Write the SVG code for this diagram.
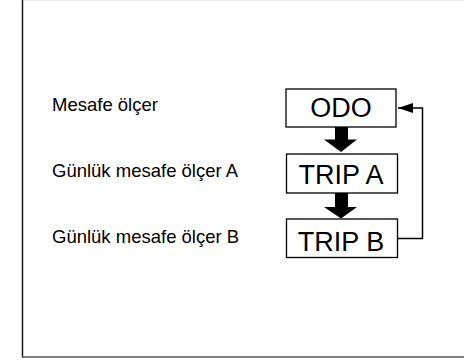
<svg xmlns="http://www.w3.org/2000/svg" width="464" height="360" viewBox="0 0 464 360">
<style>
.frame{stroke:#1a1a1a;stroke-width:1.5;fill:none}
.box{fill:#fff;stroke:#000;stroke-width:1.3}
.btxt{font-family:"Liberation Sans",Arial,sans-serif;font-size:27px;fill:#000;text-anchor:middle}
.lbl{font-family:"Liberation Sans",Arial,sans-serif;font-size:18.5px;fill:#000}
.conn{stroke:#000;stroke-width:1.5;fill:none}
.fat{fill:#000;stroke:none}
</style>
<defs>
<marker id="ah" viewBox="0 0 15 10" refX="15" refY="5" markerWidth="15" markerHeight="10" markerUnits="userSpaceOnUse" orient="auto">
<path d="M0,0 L15,5 L0,10 Z" fill="#000"/>
</marker>
</defs>
<rect width="464" height="360" fill="#fff"/>
<g id="frame">
<line x1="22" y1="0.5" x2="464" y2="0.5" stroke="#eeeeee" stroke-width="1"/>
<line class="frame" x1="22.5" y1="0" x2="22.5" y2="357.5"/>
<line x1="22" y1="357" x2="464" y2="357" stroke="#555" stroke-width="1.6"/>
</g>
<g id="labels">
<text class="lbl" x="52" y="111">Mesafe ölçer</text>
<text class="lbl" x="52" y="177">Günlük mesafe ölçer A</text>
<text class="lbl" x="52" y="243">Günlük mesafe ölçer B</text>
</g>
<g id="node-odo">
<rect class="box" x="286" y="89" width="110" height="38"/>
<text class="btxt" x="341" y="117">ODO</text>
</g>
<g id="node-tripa">
<rect class="box" x="286.5" y="154" width="111" height="39"/>
<text class="btxt" x="341" y="184">TRIP A</text>
</g>
<g id="node-tripb">
<rect class="box" x="286.5" y="219" width="111" height="38.5"/>
<text class="btxt" x="341" y="251">TRIP B</text>
</g>
<g id="connectors">
<path class="fat" d="M335,127 H348 V139.5 H357 L341,152 L324,139.5 H335 Z"/>
<path class="fat" d="M335,193 H348 V207 H357 L341,218.5 L324,207 H335 Z"/>
<path class="conn" d="M397.5,238.5 H422.5 V108 H398" marker-end="url(#ah)"/>
</g>
</svg>
